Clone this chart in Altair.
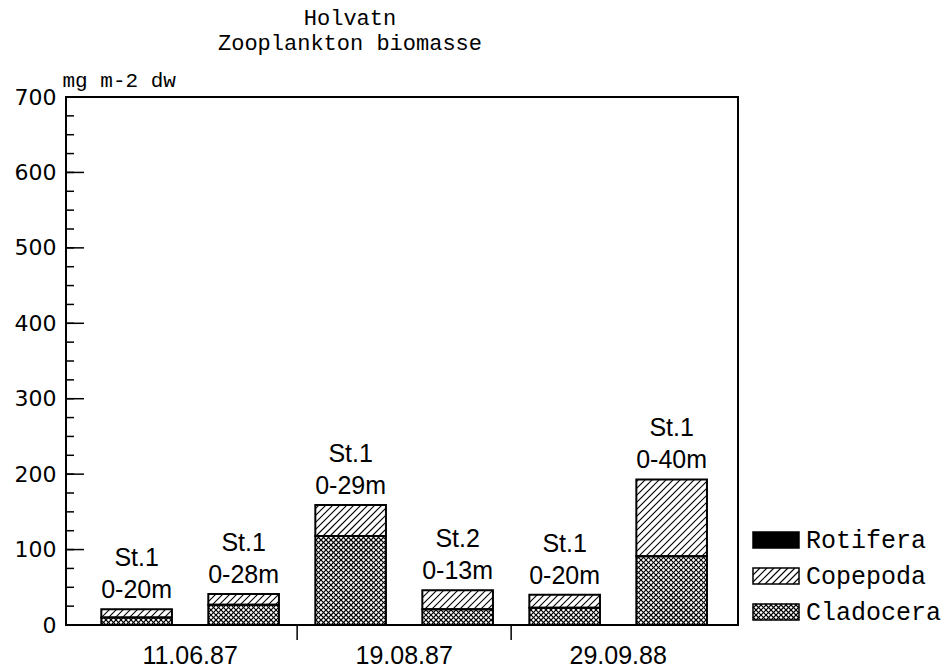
import altair as alt
import numpy as np
import pandas as pd

# ---------------- data ----------------
dates = ["11.06.87", "11.06.87", "19.08.87", "19.08.87", "29.09.88", "29.09.88"]
stations = ["St.1", "St.1", "St.1", "St.2", "St.1", "St.1"]
depths = ["0-20m", "0-28m", "0-29m", "0-13m", "0-20m", "0-40m"]
cladocera = [10, 27, 118, 21, 23, 91]
copepoda = [11, 14, 41, 25, 17, 102]
rotifera = [0, 0, 0, 0, 0, 0]
groups = ["Rotifera", "Copepoda", "Cladocera"]
y_major = [0, 100, 200, 300, 400, 500, 600, 700]
y_minor = [v for v in range(0, 701, 25)]

# ---------------- layout / style constants ----------------
W, H = 672, 528
XMIN, XMAX = -0.66, 5.62
YMAX = 700
BAR_HALF = 0.33
KX = W / (XMAX - XMIN)
KY = H / YMAX
TEXT_FONT = "Liberation Sans"
MONO = "Liberation Mono"


def hatch(X0, X1, Y0, Y1, s, direction):
    """Hatch lines (pixel space, y up) clipped to a rectangle."""
    out = []
    if direction == "/":
        k0 = int(np.floor((X0 - Y1) / s)) - 1
        k1 = int(np.ceil((X1 - Y0) / s)) + 1
        for k in range(k0, k1 + 1):
            c = k * s
            sx = max(X0, Y0 + c)
            ex = min(X1, Y1 + c)
            if ex - sx > 0.4:
                out.append((sx, sx - c, ex, ex - c))
    else:
        k0 = int(np.floor((X0 + Y0) / s)) - 1
        k1 = int(np.ceil((X1 + Y1) / s)) + 1
        for k in range(k0, k1 + 1):
            c = k * s
            sx = max(X0, c - Y1)
            ex = min(X1, c - Y0)
            if ex - sx > 0.4:
                out.append((sx, c - sx, ex, c - ex))
    return out


PATTERNS = {"Copepoda": [("/", 7.0)], "Cladocera": [("/", 5.0), ("\\", 5.0)], "Rotifera": []}

# ---------------- tables ----------------
seg_rows, hatch_rows, lab_rows = [], [], []
for i in range(len(dates)):
    base = 0.0
    for g, vals in (("Cladocera", cladocera), ("Copepoda", copepoda), ("Rotifera", rotifera)):
        v = vals[i]
        if v > 0:
            seg_rows.append(dict(group=g, x0=i - BAR_HALF, x1=i + BAR_HALF, y0=base, y1=base + v))
            X0 = (i - BAR_HALF - XMIN) * KX
            X1 = (i + BAR_HALF - XMIN) * KX
            for d, s in PATTERNS[g]:
                for (xa, ya, xb, yb) in hatch(X0, X1, base * KY, (base + v) * KY, s, d):
                    hatch_rows.append(dict(hx=XMIN + xa / KX, hy=ya / KY, hx2=XMIN + xb / KX, hy2=yb / KY))
        base += v
    lab_rows.append(dict(pos=i, total=base, station=stations[i], depth=depths[i], date=dates[i]))

segs = pd.DataFrame(seg_rows)
hatches = pd.DataFrame(hatch_rows)
labels = pd.DataFrame(lab_rows)
date_df = labels.groupby("date", as_index=False)["pos"].mean()
bounds = pd.DataFrame({"b": [p + 0.5 for p, d1, d2 in zip(range(5), dates[:-1], dates[1:]) if d1 != d2]})

# legend (pixel space relative to the plot origin)
LEG_X0, LEG_X1 = 687, 733
LEG_CY = [443, 479, 515]
LEG_HALF = 8
leg_rows, leg_hatch = [], []
for g, cy in zip(groups, LEG_CY):
    leg_rows.append(dict(group=g, lx0=LEG_X0, lx1=LEG_X1, ly0=cy - LEG_HALF, ly1=cy + LEG_HALF, tx=LEG_X1 + 7, ty=cy))
    for d, s in PATTERNS[g]:
        for (xa, ya, xb, yb) in hatch(LEG_X0, LEG_X1, H - (cy + LEG_HALF), H - (cy - LEG_HALF), s, d):
            leg_hatch.append(dict(px=xa, py=H - ya, px2=xb, py2=H - yb))
legend_df = pd.DataFrame(leg_rows)
legend_hatch = pd.DataFrame(leg_hatch)

xs = alt.Scale(domain=[XMIN, XMAX], nice=False, zero=False)
ys = alt.Scale(domain=[0, YMAX], nice=False)
fill_scale = alt.Scale(domain=groups, range=["black", "white", "white"])
y_axis = alt.Axis(
    values=y_major, ticks=False, domain=False, grid=False,
    labelFont="DejaVu Sans", labelFontSize=22, labelColor="black", labelPadding=10,
    title="mg m-2 dw", titleAngle=0, titleX=-4, titleY=-7, titleAlign="left",
    titleBaseline="bottom", titleFont=MONO, titleFontSize=21, titleFontWeight="normal",
    titleColor="black",
)

bars = alt.Chart(segs).mark_rect(stroke=None).encode(
    x=alt.X("x0:Q", scale=xs, axis=None),
    x2="x1:Q",
    y=alt.Y("y0:Q", scale=ys, axis=y_axis),
    y2="y1:Q",
    fill=alt.Fill("group:N", scale=fill_scale, legend=None),
)

hatch_layer = alt.Chart(hatches).mark_rule(color="black", strokeWidth=1.1).encode(
    x=alt.X("hx:Q", scale=xs, axis=None), y=alt.Y("hy:Q", scale=ys, axis=y_axis),
    x2="hx2:Q", y2="hy2:Q",
)

outline = alt.Chart(segs).mark_rect(fillOpacity=0, stroke="black", strokeWidth=2).encode(
    x=alt.X("x0:Q", scale=xs, axis=None), x2="x1:Q",
    y=alt.Y("y0:Q", scale=ys, axis=y_axis), y2="y1:Q",
)

major_ticks = alt.Chart(pd.DataFrame({"t": y_major})).mark_rule(color="black", strokeWidth=1.5).encode(
    y=alt.Y("t:Q", scale=ys, axis=y_axis), x=alt.value(0), x2=alt.value(18)
)
minor_ticks = alt.Chart(pd.DataFrame({"t": y_minor})).mark_rule(color="black", strokeWidth=1.5).encode(
    y=alt.Y("t:Q", scale=ys, axis=y_axis), x=alt.value(0), x2=alt.value(8)
)

station_text = alt.Chart(labels).mark_text(
    font=TEXT_FONT, fontSize=25, dy=-51, baseline="middle", color="black"
).encode(x=alt.X("pos:Q", scale=xs, axis=None), y=alt.Y("total:Q", scale=ys, axis=y_axis), text="station:N")
depth_text = alt.Chart(labels).mark_text(
    font=TEXT_FONT, fontSize=25, dy=-19, baseline="middle", color="black"
).encode(x=alt.X("pos:Q", scale=xs, axis=None), y=alt.Y("total:Q", scale=ys, axis=y_axis), text="depth:N")

date_text = alt.Chart(date_df).mark_text(
    font=TEXT_FONT, fontSize=25, baseline="middle", color="black"
).encode(x=alt.X("pos:Q", scale=xs, axis=None), y=alt.value(H + 31), text="date:N")

date_ticks = alt.Chart(bounds).mark_rule(color="black", strokeWidth=1.5).encode(
    x=alt.X("b:Q", scale=xs, axis=None), y=alt.value(H), y2=alt.value(H + 15)
)

leg_rect = alt.Chart(legend_df).mark_rect(stroke="black", strokeWidth=1.5).encode(
    x=alt.X("lx0:Q", scale=None), x2="lx1:Q",
    y=alt.Y("ly0:Q", scale=None), y2="ly1:Q",
    fill=alt.Fill("group:N", scale=fill_scale, legend=None),
)
leg_hatch_layer = alt.Chart(legend_hatch).mark_rule(color="black", strokeWidth=1.1).encode(
    x=alt.X("px:Q", scale=None), x2="px2:Q", y=alt.Y("py:Q", scale=None), y2="py2:Q"
)
leg_text = alt.Chart(legend_df).mark_text(
    font=MONO, fontSize=25, align="left", baseline="middle", color="black"
).encode(x=alt.X("tx:Q", scale=None), y=alt.Y("ty:Q", scale=None), text="group:N")

chart = alt.layer(
    bars, hatch_layer, outline, major_ticks, minor_ticks, station_text, depth_text,
    date_text, date_ticks, leg_rect, leg_hatch_layer, leg_text,
).properties(
    width=W,
    height=H,
    padding={"left": 66, "top": 97, "right": 950 - 66 - W, "bottom": 668 - 97 - H},
    autosize=alt.AutoSizeParams(type="none"),
    background="white",
    title=alt.TitleParams(
        ["Holvatn", "Zooplankton biomasse"], font=MONO, fontSize=22, fontWeight="normal",
        anchor="middle", dx=-52, offset=14, lineHeight=25, color="black",
    ),
).configure_view(stroke="black", strokeWidth=2)

chart.save("out.html", embed_options={"renderer": "svg", "actions": False})
